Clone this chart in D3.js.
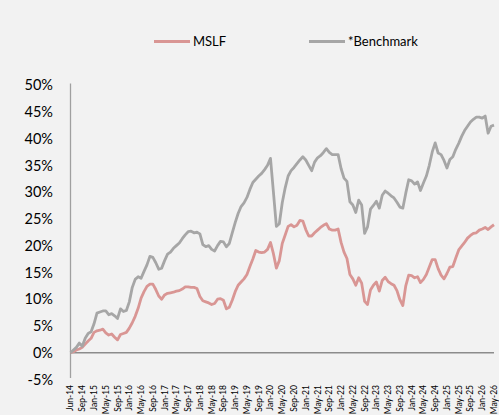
<!DOCTYPE html>
<html>
<head>
<meta charset="utf-8">
<script src="https://cdn.jsdelivr.net/npm/d3@7"></script>
<style>
  html, body { margin: 0; padding: 0; background: #F2F2F2; }
  svg { display: block; }
</style>
</head>
<body>
<svg id="chart" width="499" height="415"></svg>
<script>
// Monthly categories: index 0 = inception (start of Jun-14), then month ends Jun-14 .. May-26
const categories = d3.timeMonth.range(new Date(2014, 4, 1), new Date(2026, 5, 1)).map(d3.timeFormat("%b-%y"));

const tickLabels = ["Jun-14","Sep-14","Jan-15","May-15","Sep-15","Jan-16","May-16","Sep-16","Jan-17","May-17","Sep-17","Jan-18","May-18","Sep-18","Jan-19","May-19","Sep-19","Jan-20","May-20","Sep-20","Jan-21","May-21","Sep-21","Jan-22","May-22","Sep-22","Jan-23","May-23","Sep-23","Jan-24","May-24","Sep-24","Jan-25","May-25","Sep-25","Jan-26","May-26"];

const yTicks = [-5, 0, 5, 10, 15, 20, 25, 30, 35, 40, 45, 50];

const mslf = [
  0.0, 0.2, 0.5, 0.7, 1.0, 1.6, 2.2, 2.7, 3.8, 4.1,
  4.2, 4.4, 3.7, 3.3, 3.5, 2.9, 2.4, 3.4, 3.6, 3.8,
  4.6, 5.6, 6.8, 8.3, 10.2, 11.4, 12.4, 12.8, 12.8, 11.8,
  10.6, 10.0, 10.8, 11.1, 11.2, 11.3, 11.5, 11.6, 11.9, 12.3,
  12.3, 12.2, 12.2, 12.0, 10.5, 9.7, 9.5, 9.3, 9.0, 9.2,
  10.0, 10.1, 9.8, 8.2, 8.5, 9.8, 11.4, 12.6, 13.2, 13.8,
  14.6, 16.1, 17.5, 19.1, 18.8, 18.7, 18.8, 19.3, 20.6, 18.5,
  15.8, 17.2, 20.4, 22.0, 23.6, 23.9, 23.5, 23.8, 24.7, 24.6,
  23.0, 21.8, 21.8, 22.4, 22.9, 23.4, 23.8, 24.1, 23.1, 22.9,
  22.9, 23.1, 20.6, 18.8, 17.6, 14.6, 13.8, 12.6, 14.0, 13.0,
  9.6, 9.0, 11.7, 12.6, 13.2, 11.5, 13.5, 14.1, 13.3, 12.9,
  12.6, 11.6, 9.9, 8.8, 12.5, 14.5, 14.4, 14.0, 14.2, 13.1,
  13.7, 14.6, 16.0, 17.4, 17.4, 15.7, 14.5, 13.8, 14.8, 16.0,
  16.1, 17.7, 19.2, 19.9, 20.6, 21.4, 21.9, 22.3, 22.4, 22.9,
  23.1, 23.4, 23.0, 23.5, 23.9
];

const benchmark = [
  0.0, 0.5, 1.0, 1.8, 1.2, 2.7, 3.6, 3.9, 5.4, 7.4,
  7.6, 7.8, 7.8, 7.1, 7.3, 6.9, 6.4, 8.2, 7.7, 7.9,
  9.5, 12.2, 13.7, 14.2, 13.9, 15.2, 16.4, 18.0, 17.8, 16.8,
  15.6, 15.8, 17.2, 18.4, 18.8, 19.5, 20.0, 20.5, 21.3, 22.0,
  22.6, 22.7, 22.4, 22.5, 22.2, 20.2, 19.8, 20.0, 19.3, 19.0,
  20.0, 20.8, 20.7, 19.8, 20.4, 22.4, 24.3, 26.0, 27.3, 28.0,
  29.0, 30.5, 31.8, 32.4, 33.0, 33.5, 34.2, 35.0, 36.3, 30.0,
  23.6, 24.1, 28.0, 30.8, 33.0, 34.0, 34.6, 35.3, 36.0, 36.6,
  36.0, 35.0, 34.0, 35.6, 36.4, 36.8, 37.4, 38.1, 37.4, 37.0,
  37.0, 37.0, 34.4, 32.6, 32.0, 28.2, 27.6, 26.2, 28.5, 27.6,
  22.3, 23.5, 26.8, 27.5, 28.3, 27.0, 29.4, 30.2, 29.8, 29.3,
  28.9, 28.1, 27.2, 27.0, 29.8, 32.3, 32.1, 31.5, 31.9, 30.3,
  31.7, 33.0, 35.0, 37.5, 39.2, 37.3, 37.0, 35.9, 34.5, 36.1,
  36.6, 38.0, 39.1, 40.4, 41.5, 42.3, 43.1, 43.6, 44.0, 44.0,
  43.8, 44.2, 41.0, 42.3, 42.5
];

const seriesNames = ["MSLF", "*Benchmark"];
const seriesColors = ["#D99694", "#A6A6A6"];

const svg = d3.select("#chart");
const font = "Lato, 'Open Sans', sans-serif";

const x = d3.scalePoint().domain(categories).range([70.5, 494]);
const y = d3.scaleLinear().domain([-5, 50]).range([379.5, 85]);

// Y axis line
svg.append("line")
  .attr("x1", x(categories[0])).attr("x2", x(categories[0]))
  .attr("y1", y(50) - 1.5).attr("y2", y(-5) - 1.5)
  .attr("stroke", "#A0A0A0").attr("stroke-width", 1.3);

// Y labels
svg.append("g").selectAll("text").data(yTicks).join("text")
  .attr("x", 53).attr("y", d => y(d))
  .attr("dy", "0.36em")
  .attr("text-anchor", "end")
  .attr("font-family", font).attr("font-size", 14.5)
  .attr("fill", "#000")
  .text(d => d + "%");

// Zero line
svg.append("line")
  .attr("x1", x(categories[0])).attr("x2", x(categories[categories.length - 1]))
  .attr("y1", y(0)).attr("y2", y(0))
  .attr("stroke", "#8C8C8C").attr("stroke-width", 1.3);

// X tick labels (every 4th category)
const tickIdx = tickLabels.map((_, i) => i * 4);
svg.append("g").selectAll("text").data(tickIdx).join("text")
  .attr("transform", (d) => `translate(${x(categories[d])},385) rotate(-90)`)
  .attr("dy", "0.35em")
  .attr("text-anchor", "end")
  .attr("font-family", font).attr("font-size", 8.5)
  .attr("fill", "#000")
  .text((d, i) => tickLabels[i]);

// Lines
const line = d3.line()
  .x((d, i) => x(categories[i]))
  .y(d => y(d))
  .curve(d3.curveLinear);

[mslf, benchmark].forEach((s, k) => {
  svg.append("path")
    .datum(s)
    .attr("d", line)
    .attr("fill", "none")
    .attr("stroke", seriesColors[k])
    .attr("stroke-width", 2.8)
    .attr("stroke-linejoin", "round");
});

// Legend
const legendX = [154, 309];
seriesNames.forEach((name, k) => {
  svg.append("line")
    .attr("x1", legendX[k]).attr("x2", legendX[k] + 36)
    .attr("y1", 41.5).attr("y2", 41.5)
    .attr("stroke", seriesColors[k]).attr("stroke-width", 3);
  svg.append("text")
    .attr("x", legendX[k] + 39).attr("y", 41.5)
    .attr("dy", "0.36em")
    .attr("font-family", font).attr("font-size", 13)
    .attr("fill", "#000")
    .text(name);
});
</script>
</body>
</html>
